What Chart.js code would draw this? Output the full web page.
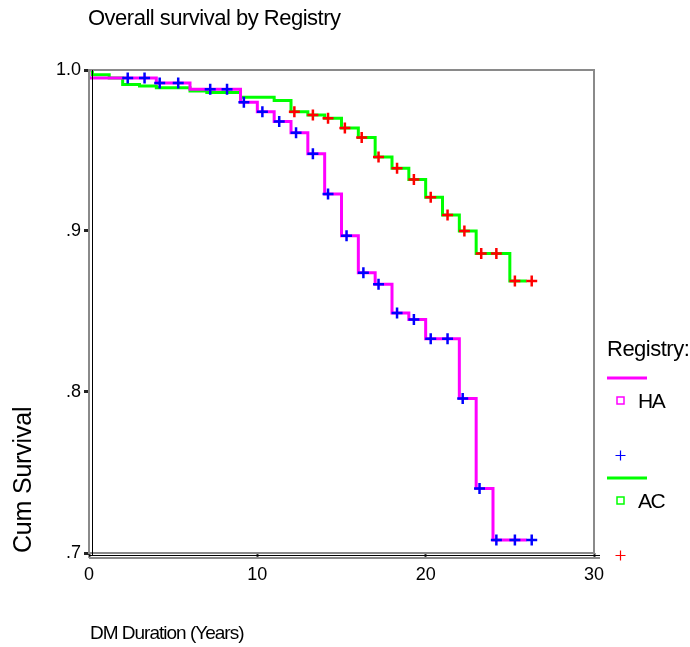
<!DOCTYPE html>
<html>
<head>
<meta charset="utf-8">
<script src="https://cdn.jsdelivr.net/npm/chart.js@4.4.0/dist/chart.umd.min.js"></script>
<style>
  html, body { margin: 0; padding: 0; background: #fff; }
</style>
</head>
<body>
<canvas id="chart-survival" width="690" height="647"></canvas>
<script>
// Kaplan-Meier steps
const haTimes = [0, 0, 4, 6, 9, 10, 11, 12, 13, 14, 15, 16, 17, 18, 19, 20, 22, 23, 24, 26];
const haSurv = [1.0, 0.995, 0.992, 0.988, 0.98, 0.974, 0.968, 0.961, 0.948, 0.923, 0.897, 0.874, 0.867, 0.849, 0.845, 0.833, 0.796, 0.74, 0.708, 0.708];

const acTimes = [0, 0.2, 1.2, 2, 3, 4, 6, 7, 9, 11, 12, 13, 14, 15, 16, 17, 18, 19, 20, 21, 22, 23, 25, 26];
const acSurv = [1.0, 0.997, 0.995, 0.991, 0.99, 0.989, 0.987, 0.986, 0.983, 0.981, 0.974, 0.972, 0.97, 0.964, 0.958, 0.946, 0.939, 0.932, 0.921, 0.91, 0.9, 0.886, 0.869, 0.869];

// censored cases (+ marks)
const haCensTimes = [2.3, 3.3, 4.2, 5.3, 7.2, 8.2, 9.2, 10.3, 11.3, 12.3, 13.3, 14.2, 15.3, 16.3, 17.2, 18.3, 19.3, 20.3, 21.3, 22.2, 23.2, 24.2, 25.3, 26.3];
const haCensSurv = [0.995, 0.995, 0.992, 0.992, 0.988, 0.988, 0.98, 0.974, 0.968, 0.961, 0.948, 0.923, 0.897, 0.874, 0.867, 0.849, 0.845, 0.833, 0.833, 0.796, 0.74, 0.708, 0.708, 0.708];

const acCensTimes = [12.2, 13.3, 14.2, 15.2, 16.2, 17.2, 18.3, 19.3, 20.3, 21.3, 22.3, 23.3, 24.2, 25.3, 26.3];
const acCensSurv = [0.974, 0.972, 0.97, 0.964, 0.958, 0.946, 0.939, 0.932, 0.921, 0.91, 0.9, 0.886, 0.886, 0.869, 0.869];

const xTicks = [0, 10, 20, 30];
const yTicks = [0.7, 0.8, 0.9, 1.0];
const yTickLabels = [".7", ".8", ".9", "1.0"];

const FONT = "'Liberation Sans', Arial, sans-serif";

function pts(xs, ys) {
  return xs.map((x, i) => ({ x: x, y: ys[i] }));
}

// frame, titles and the SPSS-like legend
const decorations = {
  id: "decorations",
  afterDraw(chart) {
    const ctx = chart.ctx;
    const a = chart.chartArea;
    ctx.save();

    // plot frame
    ctx.strokeStyle = "#8a8a8a";
    ctx.lineWidth = 2;
    ctx.strokeRect(a.left, a.top, a.right - a.left, a.bottom - a.top);
    ctx.strokeStyle = "#000";
    ctx.lineWidth = 1;
    ctx.beginPath();
    ctx.moveTo(a.left + 3.5, a.top);
    ctx.lineTo(a.left + 3.5, a.bottom + 3);
    ctx.moveTo(a.left, a.bottom + 2.5);
    ctx.lineTo(a.right + 6, a.bottom + 2.5);
    ctx.stroke();
    ctx.strokeStyle = "#8a8a8a";
    ctx.lineWidth = 2;
    ctx.beginPath();
    ctx.moveTo(a.left, a.bottom + 5);
    ctx.lineTo(a.right + 6, a.bottom + 5);
    ctx.stroke();

    ctx.fillStyle = "#000";
    ctx.textBaseline = "middle";
    ctx.textAlign = "left";

    // chart title
    ctx.font = "22px " + FONT;
    ctx.letterSpacing = "-0.5px";
    ctx.fillText("Overall survival by Registry", 88, 19);

    // x axis title
    ctx.font = "19px " + FONT;
    ctx.letterSpacing = "-1px";
    ctx.fillText("DM Duration (Years)", 90, 634);

    // y axis title
    ctx.save();
    ctx.translate(24, 553);
    ctx.rotate(-Math.PI / 2);
    ctx.font = "25px " + FONT;
    ctx.letterSpacing = "-0.2px";
    ctx.fillText("Cum Survival", 0, 0);
    ctx.restore();

    // legend
    ctx.font = "22px " + FONT;
    ctx.letterSpacing = "-0.5px";
    ctx.fillText("Registry:", 607, 350);

    const items = [
      { name: "HA", line: "#ff00ff", mark: "#0000ff", y: 378 },
      { name: "AC", line: "#00ff00", mark: "#ff0000", y: 478 },
    ];
    items.forEach((it) => {
      ctx.strokeStyle = it.line;
      ctx.lineWidth = 3;
      ctx.beginPath();
      ctx.moveTo(607, it.y);
      ctx.lineTo(647, it.y);
      ctx.stroke();

      // small open square marker
      ctx.strokeStyle = it.line;
      ctx.lineWidth = 1.5;
      ctx.strokeRect(617, it.y + 19, 7, 7);

      ctx.font = "21px " + FONT;
      ctx.letterSpacing = "-1.5px";
      ctx.fillStyle = "#000";
      ctx.fillText(it.name, 638, it.y + 24);

      ctx.strokeStyle = it.mark;
      ctx.lineWidth = 1.2;
      ctx.beginPath();
      ctx.moveTo(615.5, it.y + 77.5);
      ctx.lineTo(625.5, it.y + 77.5);
      ctx.moveTo(620.5, it.y + 72.5);
      ctx.lineTo(620.5, it.y + 82.5);
      ctx.stroke();
    });

    ctx.restore();
  },
};

const ctx = document.getElementById("chart-survival").getContext("2d");
new Chart(ctx, {
  type: "scatter",
  data: {
    datasets: [
      {
        label: "HA censored",
        data: pts(haCensTimes, haCensSurv),
        pointStyle: "cross",
        pointRadius: 5.5,
        borderColor: "#0000ff",
        borderWidth: 2.5,
        showLine: false,
        order: 0,
      },
      {
        label: "AC censored",
        data: pts(acCensTimes, acCensSurv),
        pointStyle: "cross",
        pointRadius: 5.5,
        borderColor: "#ff0000",
        borderWidth: 2.5,
        showLine: false,
        order: 0,
      },
      {
        label: "HA",
        data: pts(haTimes, haSurv),
        showLine: true,
        stepped: true,
        borderColor: "#ff00ff",
        borderWidth: 3,
        pointRadius: 0,
        order: 1,
      },
      {
        label: "AC",
        data: pts(acTimes, acSurv),
        showLine: true,
        stepped: true,
        borderColor: "#00ff00",
        borderWidth: 3,
        pointRadius: 0,
        order: 2,
      },
    ],
  },
  options: {
    responsive: false,
    animation: false,
    layout: {
      padding: { left: 0, top: 70, right: 96, bottom: 0 },
    },
    plugins: {
      legend: { display: false },
      tooltip: { enabled: false },
    },
    scales: {
      x: {
        type: "linear",
        min: 0,
        max: 30,
        afterFit: (axis) => {
          axis.height = 94;
        },
        afterBuildTicks: (axis) => {
          axis.ticks = xTicks.map((v) => ({ value: v }));
        },
        grid: {
          drawOnChartArea: false,
          drawTicks: true,
          tickLength: 5,
          tickWidth: 2,
          tickColor: "#333",
        },
        border: { display: false },
        ticks: {
          padding: 6,
          color: "#000",
          font: { size: 18, family: FONT },
        },
      },
      y: {
        type: "linear",
        min: 0.7,
        max: 1.0,
        afterFit: (axis) => {
          axis.width = 89;
        },
        afterBuildTicks: (axis) => {
          axis.ticks = yTicks.map((v) => ({ value: v }));
        },
        grid: {
          drawOnChartArea: false,
          drawTicks: true,
          tickLength: 5,
          tickWidth: 3,
          tickColor: "#222",
        },
        border: { display: false },
        ticks: {
          padding: 3,
          color: "#000",
          font: { size: 18, family: FONT },
          callback: (value) => {
            const i = yTicks.findIndex((t) => Math.abs(t - value) < 1e-6);
            return i >= 0 ? yTickLabels[i] : "";
          },
        },
      },
    },
  },
  plugins: [decorations],
});
</script>
</body>
</html>
